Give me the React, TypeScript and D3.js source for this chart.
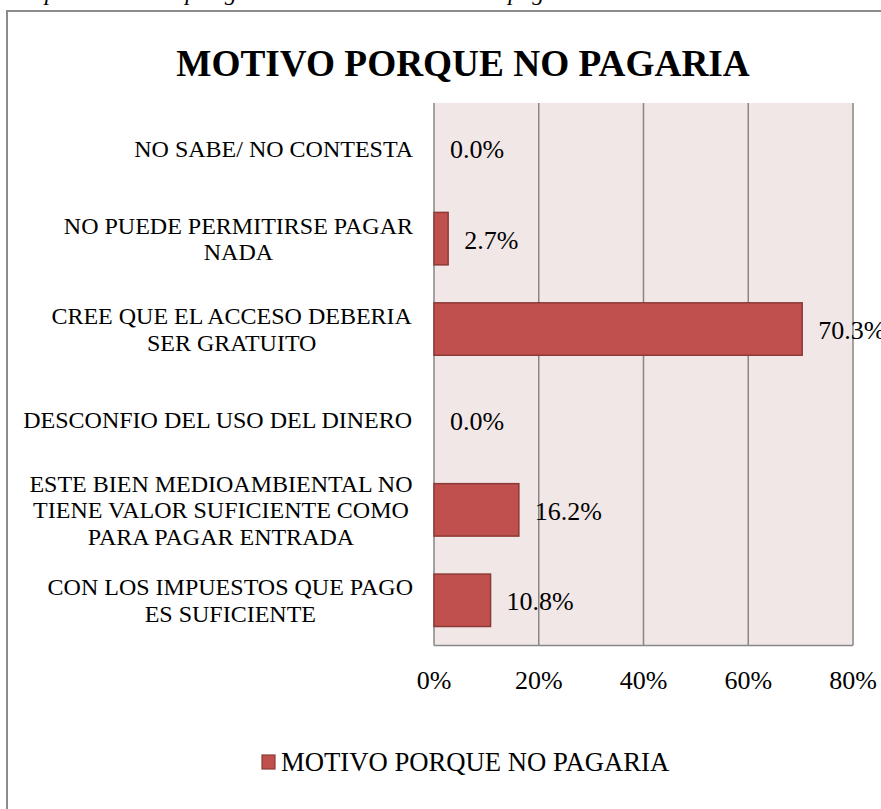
import React, { useMemo } from "react";
import * as d3 from "d3";

const categories: string[][] = [
  ["NO SABE/ NO CONTESTA"],
  ["NO PUEDE PERMITIRSE PAGAR", "NADA"],
  ["CREE QUE EL ACCESO DEBERIA", "SER GRATUITO"],
  ["DESCONFIO DEL USO DEL DINERO"],
  ["ESTE BIEN MEDIOAMBIENTAL NO", "TIENE VALOR SUFICIENTE COMO", "PARA PAGAR ENTRADA"],
  ["CON LOS IMPUESTOS QUE PAGO", "ES SUFICIENTE"],
];
const values: number[] = [0.0, 2.7, 70.3, 0.0, 16.2, 10.8];
const xTicks: number[] = [0, 20, 40, 60, 80];
const title = "MOTIVO PORQUE NO PAGARIA";
const seriesName = "MOTIVO PORQUE NO PAGARIA";
const caption = "Respuestas de los por género sobre el motivo de no pagar entrada";

const FONT = "'Liberation Serif', 'Times New Roman', serif";

function measure(text: string, font: string): number {
  const c = document.createElement("canvas");
  const ctx = c.getContext("2d");
  if (!ctx) return text.length * 12;
  ctx.font = font;
  return ctx.measureText(text).width;
}

export default function App() {
  const W = 881;
  const H = 809;
  const left = 434;
  const right = 853;
  const top = 103;
  const bottom = 645.5;

  const x = d3.scaleLinear().domain([0, 80]).range([left, right]);
  const y = d3
    .scaleBand<number>()
    .domain(d3.range(categories.length))
    .range([top, bottom])
    .paddingInner(0.42)
    .paddingOuter(0.21);

  const labelCenters = useMemo(
    () =>
      categories.map((lines) => {
        const w = Math.max(...lines.map((l) => measure(l, `24px ${FONT}`)));
        return 413 - w / 2;
      }),
    []
  );

  const barFill = "#C0504D";
  const barStroke = "#8C3A37";
  const grid = "#878787";
  const lineH = 26.5;

  return (
    <svg
      width={W}
      height={H}
      style={{ position: "absolute", left: 0, top: 0, background: "#fff" }}
      fontFamily={FONT}
    >
      <text x={10} y={0} fontSize={24} fontStyle="italic" fill="#000">
        {caption}
      </text>
      <rect x={7} y={11} width={1000} height={1000} fill="#fff" stroke="#8C8C8C" strokeWidth={2} />

      <text x={463} y={76} textAnchor="middle" fontSize={37.3} fontWeight="bold" fill="#000">
        {title}
      </text>

      <rect x={left} y={top} width={right - left} height={bottom - top} fill="#F2E7E7" />
      {xTicks.map((t) => (
        <line key={t} x1={x(t)} x2={x(t)} y1={top} y2={bottom} stroke={grid} strokeWidth={1.5} />
      ))}
      <line x1={left} x2={right} y1={bottom} y2={bottom} stroke={grid} strokeWidth={1.5} />

      {values.map((v, i) => (
        <g key={i}>
          {v > 0 && (
            <rect
              x={x(0)}
              y={y(i)!}
              width={x(v) - x(0)}
              height={y.bandwidth()}
              fill={barFill}
              stroke={barStroke}
              strokeWidth={1.5}
            />
          )}
          <text
            x={x(v) + 16}
            y={y(i)! + y.bandwidth() / 2 + 1}
            dy="0.35em"
            fontSize={26}
            fill="#000"
          >
            {v.toFixed(1) + "%"}
          </text>
        </g>
      ))}

      {categories.map((lines, i) => {
        const cy = y(i)! + y.bandwidth() / 2;
        const startY = cy - ((lines.length - 1) * lineH) / 2;
        return (
          <text key={i} textAnchor="middle" fontSize={24} fill="#000">
            {lines.map((l, j) => (
              <tspan key={j} x={labelCenters[i]} y={startY + j * lineH} dy="0.35em">
                {l}
              </tspan>
            ))}
          </text>
        );
      })}

      {xTicks.map((t) => (
        <text key={t} x={x(t)} y={680} dy="0.35em" textAnchor="middle" fontSize={26} fill="#000">
          {t + "%"}
        </text>
      ))}

      <rect x={262} y={755} width={13} height={14} fill={barFill} stroke={barStroke} strokeWidth={1.2} />
      <text x={281} y={762} dy="0.35em" fontSize={26.7} fill="#000">
        {seriesName}
      </text>
    </svg>
  );
}
